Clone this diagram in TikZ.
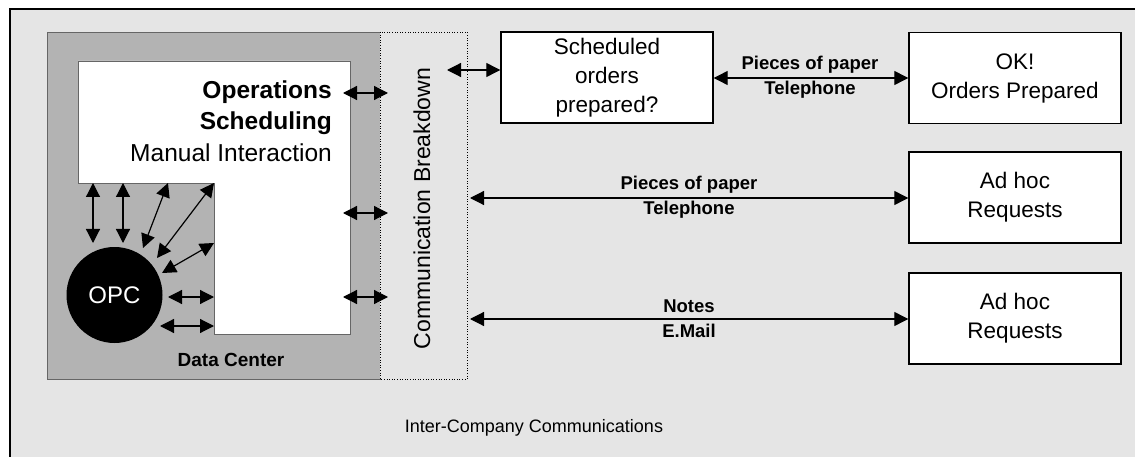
\documentclass[tikz,border=0pt]{standalone}
\usepackage{fontspec}
\setmainfont{Liberation Sans}
\usetikzlibrary{arrows.meta}
\definecolor{bgc}{HTML}{E5E5E5}
\definecolor{dcc}{HTML}{B3B3B3}
\begin{document}
\begin{tikzpicture}[x=1pt,y=-1pt,
  dblarrow/.style={{Triangle[length=14pt,width=14pt]}-{Triangle[length=14pt,width=14pt]}, line width=1.2pt},
  rbox/.style={draw, line width=1.4pt, fill=white, minimum width=212pt, minimum height=91pt, inner sep=0pt, align=center, font=\fontsize{22.5}{29}\selectfont},
  lbl/.style={align=center, inner sep=0pt, font=\bfseries\fontsize{18.5}{25}\selectfont}]
\useasboundingbox (0,0) rectangle (1135,457);
\fill[white] (0,0) rectangle (1135,457);
\fill[bgc] (10,9) rectangle (1135,457);
\draw[line width=1.3pt] (10,457) -- (10,9) -- (1135,9);
% data center
\fill[dcc, draw=black!60, line width=0.8pt] (47,32) rectangle (380,379);
\draw[dotted, line width=0.6pt, fill=bgc] (380,32) rectangle (467,379);
\fill[white, draw=black!60, line width=0.8pt] (78,61) -- (350,61) -- (350,334) -- (214,334) -- (214,183) -- (78,183) -- cycle;
\node[anchor=east, align=right, inner sep=0pt, font=\fontsize{24.5}{31.5}\selectfont] (ops) at (332,121)
  {\textbf{Operations}\\\textbf{Scheduling}\\Manual Interaction};
\node[font=\bfseries\fontsize{19}{19}\selectfont, inner sep=0pt] (dc) at (231,360) {Data Center};
\node[circle, fill=black, minimum size=96pt, inner sep=0pt, text=white, font=\fontsize{24}{24}\selectfont] (opc) at (114.5,295) {OPC};
\node[rotate=90, inner sep=0pt, font=\fontsize{23}{23}\selectfont] (cb) at (422,208.5) {Communication Breakdown};
% internal arrows
\coordinate (a1) at (93,183);  \coordinate (b1) at (93,243);
\coordinate (a2) at (123,183); \coordinate (b2) at (123,243);
\coordinate (a3) at (168,183); \coordinate (b3) at (143,248);
\coordinate (a4) at (214,183); \coordinate (b4) at (157,258);
\coordinate (a5) at (214,243); \coordinate (b5) at (162,273);
\coordinate (a6) at (214,297); \coordinate (b6) at (168,297);
\coordinate (a7) at (214,326); \coordinate (b7) at (160,326);
\foreach \i in {1,...,7} {\draw[dblarrow] (a\i) -- (b\i);}
% arrows to communication breakdown
\coordinate (r1) at (343,93);  \coordinate (s1) at (388,93);
\coordinate (r2) at (343,213); \coordinate (s2) at (388,213);
\coordinate (r3) at (343,297); \coordinate (s3) at (388,297);
\foreach \i in {1,2,3} {\draw[dblarrow] (r\i) -- (s\i);}
% boxes
\node[rbox] (sched) at (607,77.5) {Scheduled\\orders\\prepared?};
\node[rbox] (ok) at (1015,78) {OK!\\Orders Prepared};
\node[rbox] (ad1) at (1015,197.5) {Ad hoc\\Requests};
\node[rbox] (ad2) at (1015,318.5) {Ad hoc\\Requests};
\coordinate (c1) at (447,70);
\coordinate (c2) at (470,198);
\coordinate (c3) at (470,319);
\draw[dblarrow] (c1) -- (c1 -| sched.west);
\draw[dblarrow] (sched.east |- ok.west) -- (ok.west);
\draw[dblarrow] (c2) -- (c2 -| ad1.west);
\draw[dblarrow] (c3) -- (c3 -| ad2.west);
\node[lbl] (l1) at (810,77.5) {Pieces of paper\\Telephone};
\node[lbl] (l2) at (689,197.5) {Pieces of paper\\Telephone};
\node[lbl] (l3) at (689,318.5) {Notes\\E.Mail};
\node[inner sep=0pt, font=\fontsize{18}{18}\selectfont] (icc) at (534,428) {Inter-Company Communications};
\end{tikzpicture}
\end{document}
